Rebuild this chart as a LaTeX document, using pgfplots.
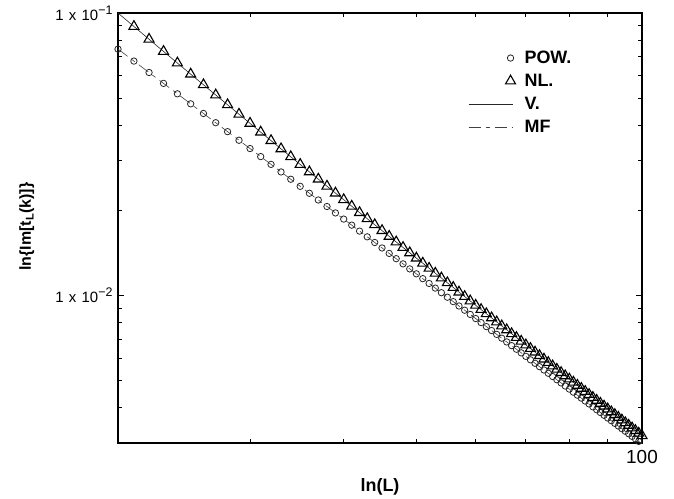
\documentclass[border=0pt]{standalone}
\usepackage{fontspec}
\setmainfont{Liberation Sans}
\usepackage{pgfplots}
\usepackage{pgfplotstable}
\pgfplotsset{compat=1.18}

% legend pictures: a lone mark at the right, or a 44bp line
\pgfplotsset{
  legmark/.style={legend image code/.code={\draw[##1] plot coordinates {(42bp,0bp)};}},
  legline/.style={legend image code/.code={\draw[##1] (0bp,0bp) -- (44bp,0bp);}},
}
% "1 x 10^n" tick label with a large superscript
\newcommand{\decade}[1]{1\hspace{0.35em}x\hspace{0.35em}10\raisebox{0.42em}{\fontsize{12.5}{13}\selectfont #1}}

% L, power-law (POW.) and non-linear (NL.) results
\pgfplotstableread{
L   pow      nl
20  0.07450  0.10000
21  0.06757  0.08961
22  0.06157  0.08074
23  0.05633  0.07311
24  0.05174  0.06651
25  0.04768  0.06074
26  0.04408  0.05570
27  0.04088  0.05125
28  0.03801  0.04731
29  0.03543  0.04380
30  0.03311  0.04067
31  0.03101  0.03786
32  0.02910  0.03533
33  0.02736  0.03304
34  0.02578  0.03097
35  0.02433  0.02909
36  0.02299  0.02737
37  0.02177  0.02580
38  0.02064  0.02436
39  0.01959  0.02303
40  0.01863  0.02182
41  0.01773  0.02069
42  0.01689  0.01964
43  0.01612  0.01869
44  0.01539  0.01779
45  0.01472  0.01696
46  0.01408  0.01618
47  0.01349  0.01546
48  0.01293  0.01478
49  0.01241  0.01415
50  0.01192  0.01355
51  0.01146  0.01300
52  0.01102  0.01247
53  0.01061  0.01198
54  0.01022  0.01152
55  0.009851 0.01108
56  0.009503 0.01067
57  0.009172 0.01027
58  0.008859 0.009905
59  0.008561 0.009555
60  0.008278 0.009223
61  0.008009 0.008908
62  0.007752 0.008609
63  0.007508 0.008324
64  0.007275 0.008053
65  0.007053 0.007796
66  0.006841 0.007551
67  0.006638 0.007316
68  0.006445 0.007094
69  0.006259 0.006881
70  0.006082 0.006677
71  0.005912 0.006483
72  0.005748 0.006295
73  0.005592 0.006117
74  0.005442 0.005946
75  0.005298 0.005782
76  0.005159 0.005624
77  0.005026 0.005473
78  0.004898 0.005328
79  0.004775 0.005189
80  0.004656 0.005055
81  0.004542 0.004926
82  0.004432 0.004802
83  0.004326 0.004683
84  0.004223 0.004567
85  0.004125 0.004457
86  0.004029 0.004350
87  0.003937 0.004247
88  0.003848 0.004147
89  0.003762 0.004052
90  0.003679 0.003959
91  0.003599 0.003870
92  0.003521 0.003783
93  0.003445 0.003699
94  0.003373 0.003619
95  0.003302 0.003540
96  0.003234 0.003465
97  0.003167 0.003391
98  0.003103 0.003320
99  0.003040 0.003250
100 0.002980 0.003184
}\spectra

\begin{document}
\begin{tikzpicture}
\useasboundingbox (0,0) rectangle (674bp,499bp);
\begin{axis}[
  at={(118bp,56bp)}, anchor=south west,
  scale only axis, width=524bp, height=430bp,
  xmode=log, ymode=log,
  xmin=20, xmax=100, ymin=0.003, ymax=0.1,
  xtick={100}, xticklabels={100},
  minor xtick={30,40,50,60,70,80,90},
  ytick={0.01,0.1},
  yticklabels={\decade{−2}, \decade{−1}},
  minor ytick={0.004,0.005,0.006,0.007,0.008,0.009,0.02,0.03,0.04,0.05,0.06,0.07,0.08,0.09},
  axis line style={line width=1.4bp},
  tick align=inside,
  major tick length=6bp, minor tick length=4bp,
  every tick/.style={black, line width=0.9bp},
  xticklabel style={font=\fontsize{19}{21}\selectfont, yshift=-4bp},
  yticklabel style={font=\fontsize{15}{17}\selectfont, xshift=-2bp},
  xlabel={ln(L)},
  xlabel style={at={(axis description cs:0.5,-0.102)}, anchor=center,
    font=\fontsize{18}{20}\selectfont\bfseries},
  ylabel={ln\{Im[t\textsubscript{L}(k)]\}},
  ylabel style={at={(axis description cs:-0.174,0.5035)}, anchor=center,
    font=\fontsize{16}{18}\selectfont\bfseries},
  legend cell align=left,
  legend style={at={(axis description cs:0.668,0.912)}, anchor=north west,
    draw=none, fill=none, inner sep=0pt, row sep=9bp,
    font=\fontsize{18}{20}\selectfont\bfseries,
    nodes={inner sep=0pt, text height=12bp, text depth=2bp},
    /tikz/every odd column/.append style={column sep=9bp}},
]
% POW. : open circles
\addplot[only marks, mark=o, mark size=3.2bp, black!85, line width=0.8bp, legmark]
  table[x=L, y=pow] {\spectra};
\addlegendentry{POW.}
% NL. : open triangles
\addplot[only marks, mark=triangle, mark size=5.8bp, black, line width=1.1bp,
  skip coords between index={0}{1}, legmark]
  table[x=L, y=nl] {\spectra};
\addlegendentry{NL.}
% V. : solid curve
\addplot[no marks, black!85, line width=0.6bp, legline]
  table[x=L, y=nl] {\spectra};
\addlegendentry{V.}
% MF : dash-dotted curve
\addplot[no marks, black!75, line width=0.6bp,
  dash pattern=on 12bp off 5bp on 4bp off 5bp, legline]
  table[x=L, y=pow] {\spectra};
\addlegendentry{MF}
\end{axis}
\end{tikzpicture}
\end{document}
